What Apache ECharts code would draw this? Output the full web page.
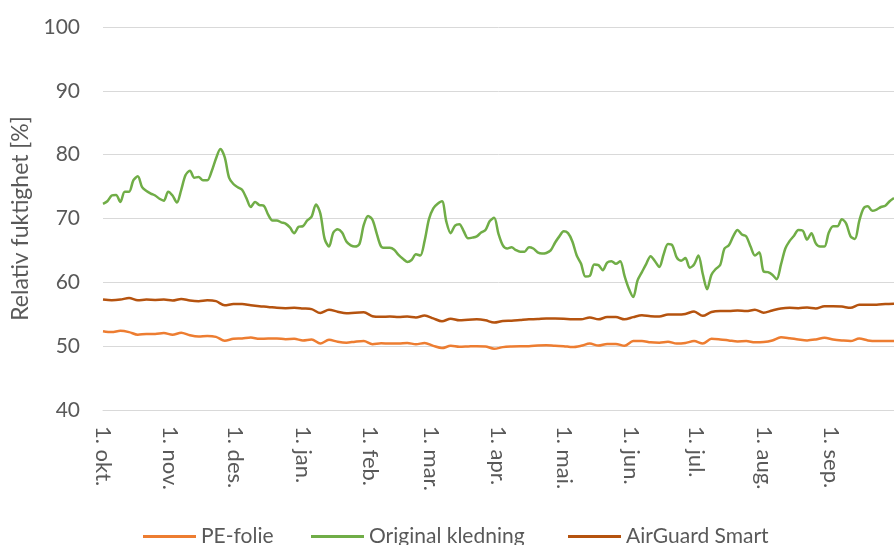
<!DOCTYPE html>
<html>
<head>
<meta charset="utf-8">
<script src="https://cdn.jsdelivr.net/npm/echarts/dist/echarts.min.js"></script>
<style>
    html, body { margin: 0; padding: 0; background: #fff; }
    #chart { width: 894px; height: 545px; }
</style>
</head>
<body>
<div id="chart"></div>
<script>
    // norske månedsnavn for aksen
    const mnd = ['jan', 'feb', 'mar', 'apr', 'mai', 'jun', 'jul', 'aug', 'sep', 'okt', 'nov', 'des'];
    const seriesNames = ['PE-folie', 'Original kledning', 'AirGuard Smart'];

    // Original kledning, annenhver dag fra 1. okt.
    const originalKledning = [
        72.3, 72.7, 73.6, 73.7, 72.6, 74.2, 74.2, 76.0, 76.6, 74.9,
        74.3, 73.9, 73.6, 73.1, 72.8, 74.2, 73.6, 72.5, 74.5, 76.8,
        77.5, 76.4, 76.5, 76.0, 76.0, 77.4, 79.4, 80.9, 79.6, 76.4,
        75.4, 74.9, 74.5, 73.2, 71.8, 72.6, 72.1, 72.0, 70.6, 69.7,
        69.7, 69.4, 69.2, 68.6, 67.7, 68.7, 68.8, 69.7, 70.3, 72.2,
        70.8, 66.8, 65.6, 67.8, 68.3, 67.8, 66.4, 65.8, 65.6, 66.0,
        69.0, 70.4, 69.8, 67.6, 65.6, 65.4, 65.4, 65.1, 64.3, 63.7,
        63.2, 63.5, 64.4, 64.2, 66.5, 69.9, 71.6, 72.3, 72.7, 69.5,
        67.7, 68.9, 69.1, 68.0, 66.9, 67.0, 67.2, 67.8, 68.2, 69.6,
        70.1, 67.6, 65.8, 65.3, 65.5, 65.05, 64.8, 64.8, 65.5, 65.3,
        64.7, 64.5, 64.6, 65.0, 66.2, 67.2, 68.0, 67.7, 66.4, 64.2,
        62.9, 60.9, 61.0, 62.8, 62.7, 61.9, 63.1, 63.3, 62.9, 63.3,
        61.0, 59.0, 57.7, 60.3, 61.6, 62.9, 64.1, 63.3, 62.4, 64.4,
        66.0, 65.8, 63.9, 63.4, 63.8, 62.3, 62.8, 64.2, 61.3, 58.9,
        61.2, 62.1, 62.7, 65.3, 65.8, 67.2, 68.2, 67.5, 67.2, 65.6,
        64.2, 64.7, 61.7, 61.6, 61.2, 60.5, 62.8, 65.3, 66.5, 67.3,
        68.2, 68.1, 66.7, 67.7, 66.1, 65.6, 65.6, 67.8, 68.8, 68.8,
        69.9, 69.2, 67.2, 66.8, 69.6, 71.6, 71.9, 71.2, 71.4, 71.8,
        72.0, 72.7, 73.2
    ];

    // AirGuard Smart, hver fjerde dag
    const airGuard = [
        57.3, 57.2, 57.3, 57.55, 57.2, 57.3, 57.25, 57.3, 57.15, 57.4,
        57.15, 57.05, 57.2, 57.05, 56.4, 56.6, 56.6, 56.4, 56.25, 56.15,
        56.0, 55.95, 56.0, 55.9, 55.8, 55.2, 55.7, 55.4, 55.15, 55.25,
        55.3, 54.7, 54.6, 54.65, 54.55, 54.65, 54.5, 54.8, 54.35, 53.9,
        54.3, 54.05, 54.15, 54.2, 54.05, 53.7, 53.95, 54.0, 54.1, 54.2,
        54.25, 54.35, 54.35, 54.3, 54.2, 54.2, 54.5, 54.2, 54.55, 54.55,
        54.2, 54.55, 54.85, 54.7, 54.65, 54.95, 54.95, 55.05, 55.45, 54.75,
        55.35, 55.5, 55.5, 55.6, 55.5, 55.7, 55.25, 55.6, 55.9, 56.0,
        55.95, 56.05, 55.9, 56.25, 56.25, 56.2, 56.0, 56.5, 56.5, 56.5,
        56.6, 56.65
    ];

    // PE-folie, hver fjerde dag
    const peFolie = [
        52.35, 52.2, 52.4, 52.2, 51.8, 51.9, 51.9, 52.05, 51.8, 52.1,
        51.7, 51.5, 51.6, 51.45, 50.85, 51.15, 51.2, 51.35, 51.15, 51.2,
        51.2, 51.1, 51.15, 50.9, 51.05, 50.4, 51.0, 50.7, 50.55, 50.7,
        50.8, 50.3, 50.45, 50.4, 50.4, 50.5, 50.3, 50.5, 50.05, 49.7,
        50.05, 49.9, 49.95, 50.0, 49.95, 49.6, 49.85, 49.95, 50.0, 50.0,
        50.1, 50.15, 50.05, 50.0, 49.85, 50.05, 50.4, 50.1, 50.35, 50.35,
        50.05, 50.8, 50.8, 50.6, 50.55, 50.7, 50.4, 50.5, 50.8, 50.4,
        51.15, 51.05, 50.9, 50.75, 50.8, 50.6, 50.65, 50.9, 51.4, 51.25,
        51.05, 50.9, 51.05, 51.3, 51.05, 50.9, 50.8, 51.2, 50.9, 50.8,
        50.8, 50.8
    ];

    const colors = ['#ed7d31', '#70ad47', '#b5530f'];

    // én kategori per dag, 1. okt. - 30. sep.
    const days = [];
    for (let i = 0; i < 365; i++) {
        const d = new Date(2018, 9, 1 + i);
        days.push(d.getFullYear() + '-' + String(d.getMonth() + 1).padStart(2, '0') + '-' + String(d.getDate()).padStart(2, '0'));
    }

    function toPairs(values, step) {
        return values.map((v, i) => [i * step, v]);
    }

    const font = 'Lato';
    const grey = '#595959';

    // én legend per serie så de kan plasseres som i Excel
    const legendLeft = [138, 306, 563];
    const legends = seriesNames.map((n, i) => ({
        data: [n],
        left: legendLeft[i],
        top: 521,
        icon: 'rect',
        itemWidth: 53,
        itemHeight: 3,
        textStyle: { fontSize: 21, color: grey, fontFamily: font }
    }));

    const chart = echarts.init(document.getElementById('chart'));
    chart.setOption({
        animation: false,
        textStyle: { fontFamily: font },
        grid: { left: 103, right: -5, top: 27, bottom: 135, containLabel: false },
        legend: legends,
        xAxis: {
            type: 'category',
            data: days,
            boundaryGap: false,
            axisLine: { lineStyle: { color: '#d9d9d9', width: 1 } },
            axisTick: { show: false },
            axisLabel: {
                rotate: -90,
                margin: 16,
                fontSize: 22,
                color: grey,
                fontFamily: font,
                interval: (idx, val) => val.slice(8) === '01',
                formatter: val => '1. ' + mnd[parseInt(val.slice(5, 7), 10) - 1] + '.'
            },
            splitLine: { show: false }
        },
        yAxis: {
            type: 'value',
            min: 40,
            max: 100,
            interval: 10,
            name: 'Relativ fuktighet [%]',
            nameLocation: 'middle',
            nameRotate: 90,
            nameGap: 68,
            nameTextStyle: { fontSize: 23, color: grey, fontFamily: font },
            axisLine: { show: false },
            axisTick: { show: false },
            axisLabel: { fontSize: 21, color: grey, margin: 23, fontFamily: font },
            splitLine: { lineStyle: { color: '#d9d9d9', width: 1 } }
        },
        series: [
            {
                name: seriesNames[0],
                type: 'line',
                data: toPairs(peFolie, 4),
                showSymbol: false,
                smooth: 0.3,
                lineStyle: { color: colors[0], width: 2.5 },
                itemStyle: { color: colors[0] }
            },
            {
                name: seriesNames[1],
                type: 'line',
                data: toPairs(originalKledning, 2),
                showSymbol: false,
                smooth: 0.3,
                lineStyle: { color: colors[1], width: 2.5 },
                itemStyle: { color: colors[1] }
            },
            {
                name: seriesNames[2],
                type: 'line',
                data: toPairs(airGuard, 4),
                showSymbol: false,
                smooth: 0.3,
                lineStyle: { color: colors[2], width: 2.5 },
                itemStyle: { color: colors[2] }
            }
        ]
    });
</script>
</body>
</html>
